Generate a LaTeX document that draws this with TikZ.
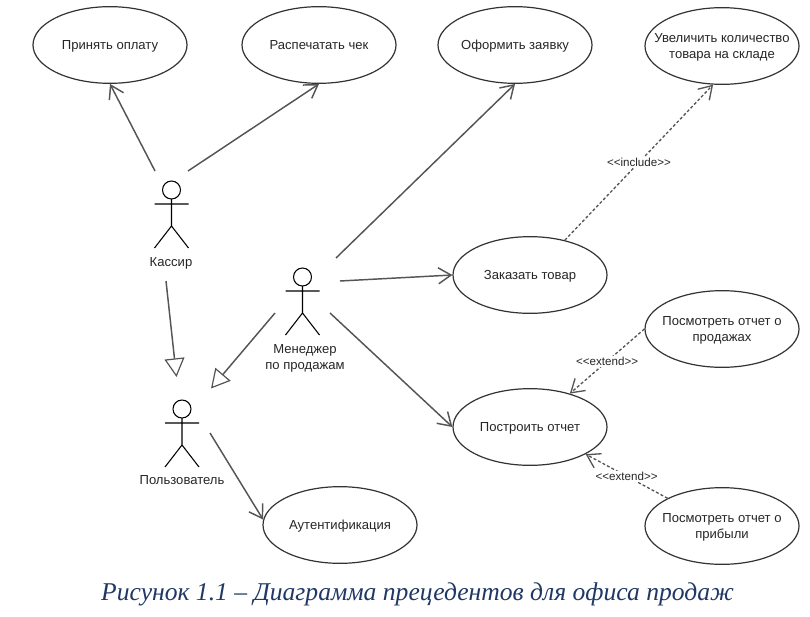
\documentclass[tikz,border=0pt]{standalone}
\usepackage{fontspec}
\setmainfont{Liberation Sans}
\newfontfamily\captionfont{Liberation Serif}
\usepackage{xcolor}
\usetikzlibrary{positioning,arrows.meta,shapes.geometric}
\definecolor{linecolor}{RGB}{85, 85, 85}
\definecolor{captioncolor}{RGB}{31, 56, 100}
\begin{document}
\begin{tikzpicture}[
    x=0.75pt, y=-0.75pt,
    usecase/.style={ellipse, draw=black!80, line width=0.9pt, fill=white, minimum width=115.5pt, minimum height=57.5pt, inner sep=-12pt, align=center, text=black!85, text depth=0pt, font=\fontsize{9.8}{12}\selectfont},
    actorname/.style={align=center, text=black!85, inner sep=0pt, text depth=0pt, font=\fontsize{9.8}{12}\selectfont},
    small/.style={fill=white, inner sep=1pt, text=black!85, font=\fontsize{8.7}{9}\selectfont},
    assoc/.style={draw=linecolor, line width=1.1pt, -{Straight Barb[length=9.5pt, width=12pt]}},
    extends/.style={assoc, dash pattern=on 2.2pt off 1.6pt, line width=1pt},
    general/.style={draw=linecolor, line width=1.1pt, -{Triangle[open, fill=white, length=14pt, width=15pt, line width=0.9pt]}},
    actor/.pic={
        \draw[black, line width=0.8pt] (0,-29) circle[radius=9];
        \draw[black, line width=0.8pt] (0,-20) -- (0,7) (-17,-15) -- (17,-15) (-17,29) -- (0,7) -- (17,29);
    }
]
\useasboundingbox (0,0) rectangle (810,617);
% use cases
\node[usecase] (pay) at (110,45) {Принять оплату};
\node[usecase] (print) at (319,45) {Распечатать чек};
\node[usecase] (order) at (515,45) {Оформить заявку};
\node[usecase] (stock) at (722,46) {Увеличить количество\\товара на складе};
\node[usecase] (buy) at (530,275) {Заказать товар};
\node[usecase] (report) at (530,427) {Построить отчет};
\node[usecase] (sales) at (722,329) {Посмотреть отчет о\\продажах};
\node[usecase] (profit) at (722,526) {Посмотреть отчет о\\прибыли};
\node[usecase] (auth) at (340,525) {Аутентификация};

% actors
\pic at (171.5,219) {actor};
\pic at (302.5,306) {actor};
\pic at (182,438) {actor};
\node[actorname] (cashier) at (171,262) {Кассир};
\node[actorname] (manager) at (305,357) {Менеджер\\по продажам};
\node[actorname] (user) at (182,480) {Пользователь};

% free ends beside the actors
\coordinate (cashierA) at (155,171);
\coordinate (cashierB) at (188,171);
\coordinate (cashierC) at (166,281);
\coordinate (managerA) at (336,258);
\coordinate (managerB) at (340,281);
\coordinate (managerC) at (330,313);
\coordinate (managerD) at (275,313);
\coordinate (userA) at (210,433);
\coordinate (userTipA) at (176.5,377);
\coordinate (userTipB) at (211,388.5);

\draw[assoc] (cashierA) -- (pay.south);
\draw[assoc] (cashierB) -- (print.south);
\draw[assoc] (managerA) -- (order.south);
\draw[assoc] (managerB) -- (buy.west);
\draw[assoc] (managerC) -- (report.west);
\draw[assoc] (userA) -- (auth.176);
\draw[general] (cashierC) -- (userTipA);
\draw[general] (managerD) -- (userTipB);

\draw[extends] (buy.45) -- node[small, midway] (includeLabel) {<{}<include>{}>} (stock.257);
\draw[extends] (sales.west) -- node[small, midway] (extendA) {<{}<extend>{}>} (report.40);
\draw[extends] (profit.153) -- node[small, midway] (extendB) {<{}<extend>{}>} (report.334);

\node[text=captioncolor, inner sep=0pt, font=\captionfont\itshape\fontsize{19.2}{22}\selectfont] (caption) at (417.5,594) {Рисунок 1.1 – Диаграмма прецедентов для офиса продаж};
\end{tikzpicture}
\end{document}
